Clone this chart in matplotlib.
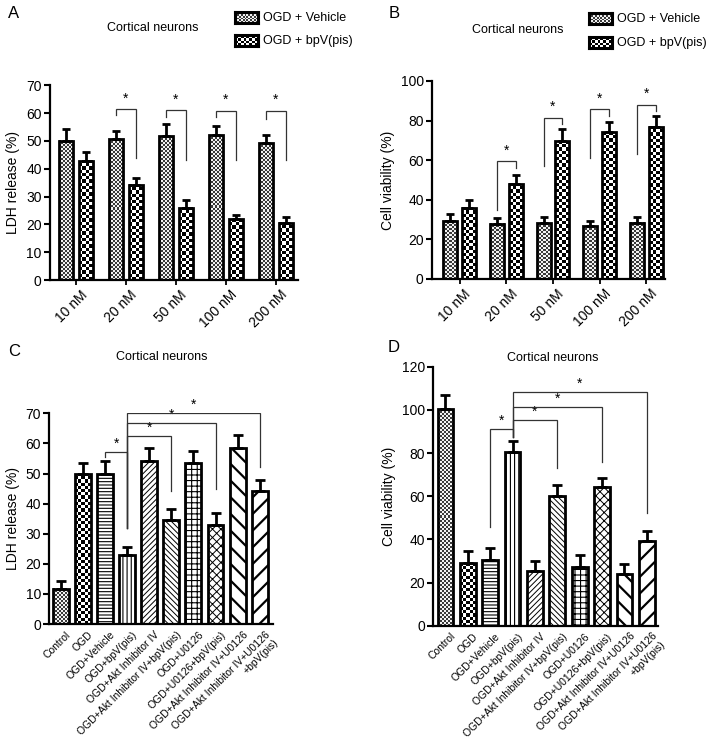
import numpy as np
import matplotlib
matplotlib.use('Agg')
import matplotlib.pyplot as plt
import matplotlib.transforms as mtransforms
from matplotlib.colors import ListedColormap

plt.rcParams['font.family'] = ['Liberation Sans', 'DejaVu Sans']

# ---------------- data ----------------
conc = ['10 nM', '20 nM', '50 nM', '100 nM', '200 nM']
legend_labels = ['OGD + Vehicle', 'OGD + bpV(pis)']

a_veh = [50.1, 50.6, 51.6, 52.0, 49.2]
a_veh_err = [4.2, 3.1, 4.4, 3.2, 3.1]
a_bpv = [42.9, 34.2, 26.0, 21.8, 20.6]
a_bpv_err = [3.1, 2.3, 2.8, 1.7, 2.1]

b_veh = [29.5, 27.8, 28.1, 26.6, 28.3]
b_veh_err = [3.1, 2.8, 3.4, 2.7, 3.0]
b_bpv = [36.0, 48.1, 69.5, 74.2, 76.8]
b_bpv_err = [3.9, 4.6, 6.1, 5.3, 5.7]

groups = ['Control', 'OGD', 'OGD+Vehicle', 'OGD+bpV(pis)', 'OGD+Akt Inhibitor IV',
          'OGD+Akt Inhibitor IV+bpV(pis)', 'OGD+U0126', 'OGD+U0126+bpV(pis)',
          'OGD+Akt Inhibitor IV+U0126', 'OGD+Akt Inhibitor IV+U0126\n+bpV(pis)']
c_vals = [11.7, 50.0, 50.0, 22.8, 54.3, 34.5, 53.4, 32.9, 58.4, 44.3]
c_err = [2.5, 3.6, 4.3, 2.7, 4.1, 3.6, 4.1, 3.9, 4.4, 3.4]
d_vals = [100.2, 29.0, 30.4, 80.6, 25.5, 59.9, 27.3, 64.4, 23.9, 39.2]
d_err = [6.7, 5.6, 5.4, 5.1, 4.5, 5.4, 5.3, 4.0, 4.7, 4.8]

# significance brackets (group, top, left-leg bottom, right-leg bottom)
a_sig = [(1, 61.3, 59.2, 43.8), (2, 61.0, 58.5, 43.0), (3, 60.7, 58.5, 43.0), (4, 60.7, 58.0, 43.0)]
b_sig = [(1, 59.4, 34.8, 55.9), (2, 81.5, 57.0, 78.5), (3, 85.7, 61.0, 82.5), (4, 88.0, 63.0, 85.0)]
# (left bar, right bar, top, left bottom, right bottom)
c_sig = [(2, 3, 57.3, 55.6, 31.8), (3, 5, 62.5, 31.8, 44.3), (3, 7, 66.7, 31.8, 45.0), (3, 9, 70.0, 31.8, 52.3)]
d_sig = [(2, 3, 91.1, 45.9, 87.6), (3, 5, 95.3, 87.6, 72.9), (3, 7, 101.2, 87.6, 76.0), (3, 9, 108.1, 87.6, 52.0)]

W, H = 709, 746
fig = plt.figure(figsize=(W / 100, H / 100), dpi=100)


def px_axes(x0, y0, x1, y1):
    return fig.add_axes([x0 / W, 1 - y1 / H, (x1 - x0) / W, (y1 - y0) / H])


def ftext(x, y, s, **kw):
    fig.text(x / W, 1 - y / H, s, **kw)


big_cmap = ListedColormap(['white', 'black'])
fine_cmap = ListedColormap(['#f2f2f2', '#3a3a3a'])


def checker(ax, x0, x1, y0, y1, cell, cmap):
    p0 = ax.transData.transform((x0, y0))
    p1 = ax.transData.transform((x1, y1))
    nc = max(1, int(round((p1[0] - p0[0]) / cell)))
    nr = max(1, int(round((p1[1] - p0[1]) / cell)))
    arr = np.add.outer(np.arange(nr), np.arange(nc)) % 2
    ax.imshow(arr, cmap=cmap, extent=(x0, x1, y0, y1), aspect='auto',
              interpolation='nearest', origin='lower', zorder=1)


def style_axes(ax, ymax, ystep):
    for s in ['top', 'right']:
        ax.spines[s].set_visible(False)
    for s in ['left', 'bottom']:
        ax.spines[s].set_linewidth(1.6)
    ax.set_ylim(0, ymax)
    ax.set_yticks(np.arange(0, ymax + 0.1, ystep))
    ax.tick_params(axis='y', length=4, width=1.5, labelsize=10, pad=2)


def shift_labels(ax, dx_px):
    off = mtransforms.ScaledTranslation(dx_px / 100, 0, fig.dpi_scale_trans)
    for lab in ax.get_xticklabels():
        lab.set_transform(lab.get_transform() + off)


def bars_with_err(ax, x, vals, errs, width, hatch=None, face='none', hlw=None, capsize=3.5):
    bc = ax.bar(x, vals, width, facecolor=face, edgecolor='black', linewidth=2.0,
                hatch=hatch, zorder=2)
    if hlw is not None:
        for p in bc:
            try:
                p.set_hatch_linewidth(hlw)
            except Exception:
                pass
    ax.errorbar(x, vals, yerr=[np.zeros(len(vals)), errs], fmt='none', ecolor='black',
                elinewidth=2.0, capsize=capsize, capthick=2.0, zorder=3)


def grouped_panel(ax, veh, veh_err, bpv, bpv_err, xlim, width, sig, ymax, ystep, ylabel):
    style_axes(ax, ymax, ystep)
    ax.tick_params(axis='x', length=3.5, width=1.3, pad=2)
    ax.set_xlim(*xlim)
    xg = np.arange(len(conc))
    xv = xg - 0.2
    xb = xg + 0.2
    for xi, v in zip(xv, veh):
        checker(ax, xi - width / 2, xi + width / 2, 0, v, 2.0, fine_cmap)
    for xi, v in zip(xb, bpv):
        checker(ax, xi - width / 2, xi + width / 2, 0, v, 3.2, big_cmap)
    bars_with_err(ax, xv, veh, veh_err, width, capsize=3.2)
    bars_with_err(ax, xb, bpv, bpv_err, width, capsize=3.2)
    ax.set_xticks(xg)
    ax.set_xticklabels(conc, rotation=45, ha='right', rotation_mode='anchor', fontsize=10)
    shift_labels(ax, 4)
    ax.set_ylabel(ylabel, fontsize=10, labelpad=4)
    for g, top, lb, rb in sig:
        ax.plot([xv[g], xv[g], xb[g], xb[g]], [lb, top, top, rb], color='#333333', lw=0.9,
                zorder=4, solid_joinstyle='miter')
        ax.text(xg[g], top + ymax * 0.02, '*', ha='center', va='bottom', fontsize=10)


def multi_panel(ax, vals, errs, xlim, width, sig, ymax, ystep, ylabel):
    style_axes(ax, ymax, ystep)
    ax.tick_params(axis='x', length=0, pad=4)
    ax.set_xlim(*xlim)
    x = np.arange(len(groups))
    checker(ax, x[0] - width / 2, x[0] + width / 2, 0, vals[0], 2.0, fine_cmap)
    checker(ax, x[1] - width / 2, x[1] + width / 2, 0, vals[1], 3.2, big_cmap)
    bars_with_err(ax, x[:2], vals[:2], errs[:2], width)
    hatches = ['-----', '||||', '//////', '\\\\\\\\\\\\', '+++', 'xxxx', '\\\\', '//']
    hlws = [0.8, 0.8, 0.7, 0.7, 0.8, 0.7, 1.6, 1.6]
    for i, (h, lw) in enumerate(zip(hatches, hlws)):
        j = i + 2
        bars_with_err(ax, [x[j]], [vals[j]], [errs[j]], width, hatch=h, face='white', hlw=lw)
    ax.set_xticks(x)
    ax.set_xticklabels(groups, rotation=45, ha='right', rotation_mode='anchor', fontsize=7.5)
    shift_labels(ax, 5)
    ax.set_ylabel(ylabel, fontsize=10, labelpad=4)
    for l, r, top, lb, rb in sig:
        ax.plot([x[l], x[l], x[r], x[r]], [lb, top, top, rb], color='#333333', lw=0.9,
                zorder=4, solid_joinstyle='miter')
        ax.text((x[l] + x[r]) / 2, top + ymax * 0.005, '*', ha='center', va='bottom', fontsize=10)


# Panel A
axA = px_axes(50, 85.3, 298, 280)
grouped_panel(axA, a_veh, a_veh_err, a_bpv, a_bpv_err, (-0.52, 4.44), 0.27, a_sig, 70, 10,
              'LDH release (%)')
# Panel B
axB = px_axes(432, 81, 665, 279)
grouped_panel(axB, b_veh, b_veh_err, b_bpv, b_bpv_err, (-0.59, 4.40), 0.30, b_sig, 100, 20,
              'Cell viability (%)')
# Panel C
axC = px_axes(49.3, 413.3, 273, 624)
multi_panel(axC, c_vals, c_err, (-0.52, 9.6), 0.72, c_sig, 70, 10, 'LDH release (%)')
# Panel D
axD = px_axes(433.3, 366.7, 658, 625.7)
multi_panel(axD, d_vals, d_err, (-0.54, 9.5), 0.70, d_sig, 120, 20, 'Cell viability (%)')

# titles and letters
ftext(153, 28, 'Cortical neurons', ha='center', va='center', fontsize=9)
ftext(518, 30, 'Cortical neurons', ha='center', va='center', fontsize=9)
ftext(162, 357, 'Cortical neurons', ha='center', va='center', fontsize=9)
ftext(553, 358, 'Cortical neurons', ha='center', va='center', fontsize=9)
ftext(8, 13, 'A', ha='left', va='center', fontsize=12)
ftext(389, 14, 'B', ha='left', va='center', fontsize=12)
ftext(8, 352, 'C', ha='left', va='center', fontsize=12)
ftext(388, 347, 'D', ha='left', va='center', fontsize=12)


# legends
def swatch(x0, y0, x1, y1, cell, cmap):
    ax = px_axes(x0, y0, x1, y1)
    ax.set_xlim(0, 1)
    ax.set_ylim(0, 1)
    checker(ax, 0, 1, 0, 1, cell, cmap)
    ax.set_xticks([])
    ax.set_yticks([])
    for s in ax.spines.values():
        s.set_linewidth(2.2)


for (sx, tx, ys) in [(235, 263, (12, 35)), (589, 617, (13, 37))]:
    for k, y in enumerate(ys):
        swatch(sx, y, sx + 23, y + 11, 2.0 if k == 0 else 3.0, fine_cmap if k == 0 else big_cmap)
        ftext(tx, y + 6, legend_labels[k], ha='left', va='center', fontsize=9)

fig.savefig('out.png', dpi=100)
